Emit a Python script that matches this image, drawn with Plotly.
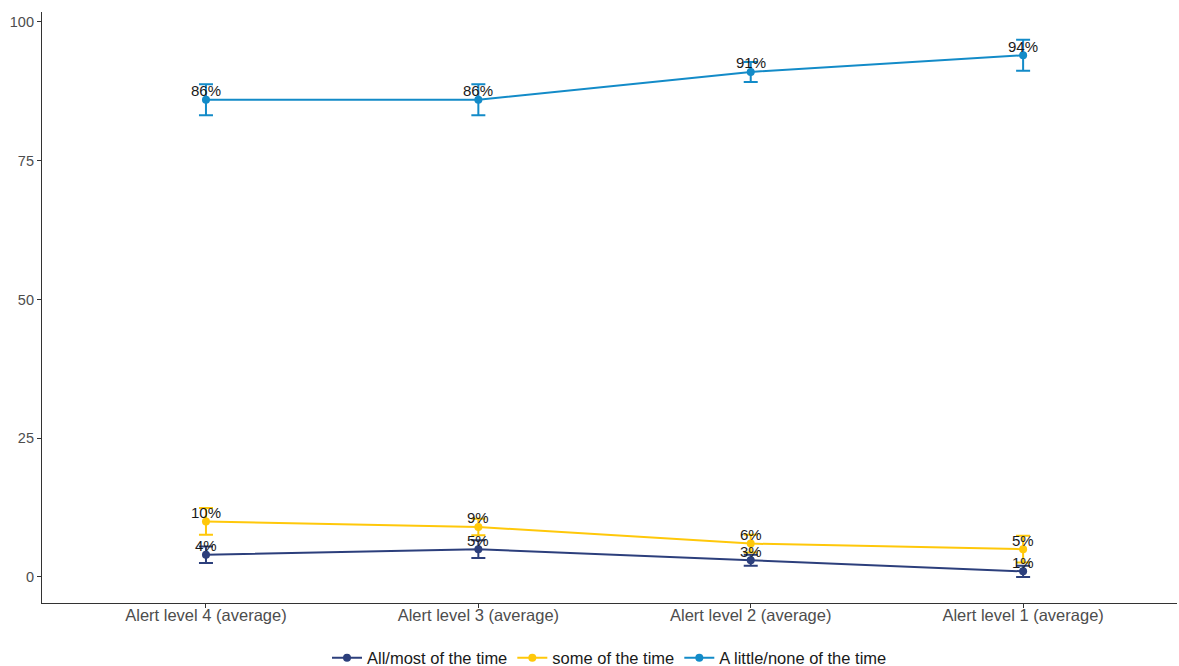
import plotly.graph_objects as go

# Alert level periods (x axis categories)
periods = ["Alert level 4 (average)", "Alert level 3 (average)",
           "Alert level 2 (average)", "Alert level 1 (average)"]

# Share of people (%) by how often they felt lonely
all_most = [4, 5, 3, 1]
some_time = [10, 9, 6, 5]
little_none = [86, 86, 91, 94]

# Half-widths of the confidence intervals (percentage points)
all_most_err = [1.5, 1.6, 1.0, 1.0]
some_time_err = [2.4, 1.5, 1.6, 2.4]
little_none_err = [2.8, 2.8, 1.8, 2.8]

series = [
    ("All/most of the time", all_most, all_most_err, "#2C3F7C"),
    ("some of the time", some_time, some_time_err, "#FFC80A"),
    ("A little/none of the time", little_none, little_none_err, "#138BC8"),
]

font_family = "Liberation Sans, Arial, sans-serif"

fig = go.Figure()
for name, vals, errs, color in series:
    fig.add_trace(go.Scatter(
        x=periods, y=vals, name=name,
        mode="lines+markers",
        line=dict(color=color, width=2),
        marker=dict(color=color, size=8),
        error_y=dict(type="data", array=errs, visible=True,
                     color=color, thickness=2, width=7),
    ))
    # percentage labels sitting just above each point
    for p, v in zip(periods, vals):
        fig.add_annotation(
            x=p, y=v, text=f"{v}%", showarrow=False,
            yanchor="middle", yshift=9,
            font=dict(family=font_family, size=15, color="#1a1a1a"),
        )

fig.update_layout(
    width=1179, height=666,
    margin=dict(l=42, r=2, t=12, b=63, autoexpand=False),
    plot_bgcolor="white", paper_bgcolor="white",
    font=dict(family=font_family, size=14, color="#4D4D4D"),
    showlegend=True,
    legend=dict(orientation="h", x=0.5, xanchor="center",
                y=-0.093, yanchor="middle",
                font=dict(family=font_family, size=16.5, color="#1a1a1a"),
                itemwidth=30, tracegroupgap=0),
)
fig.update_xaxes(
    range=[-0.602, 3.565], showgrid=False, zeroline=False,
    showline=True, linecolor="#333333", linewidth=1.2,
    ticks="outside", ticklen=4, tickcolor="#333333",
    ticklabelstandoff=-7,
    tickfont=dict(size=16.5, color="#4D4D4D"),
)
fig.update_yaxes(
    range=[-4.7, 101.8], showgrid=False, zeroline=False,
    tickvals=[0, 25, 50, 75, 100],
    showline=True, linecolor="#333333", linewidth=1.2,
    ticks="outside", ticklen=4, tickcolor="#333333",
    tickfont=dict(size=14.5, color="#4D4D4D"),
)

fig.write_html("out.html")
